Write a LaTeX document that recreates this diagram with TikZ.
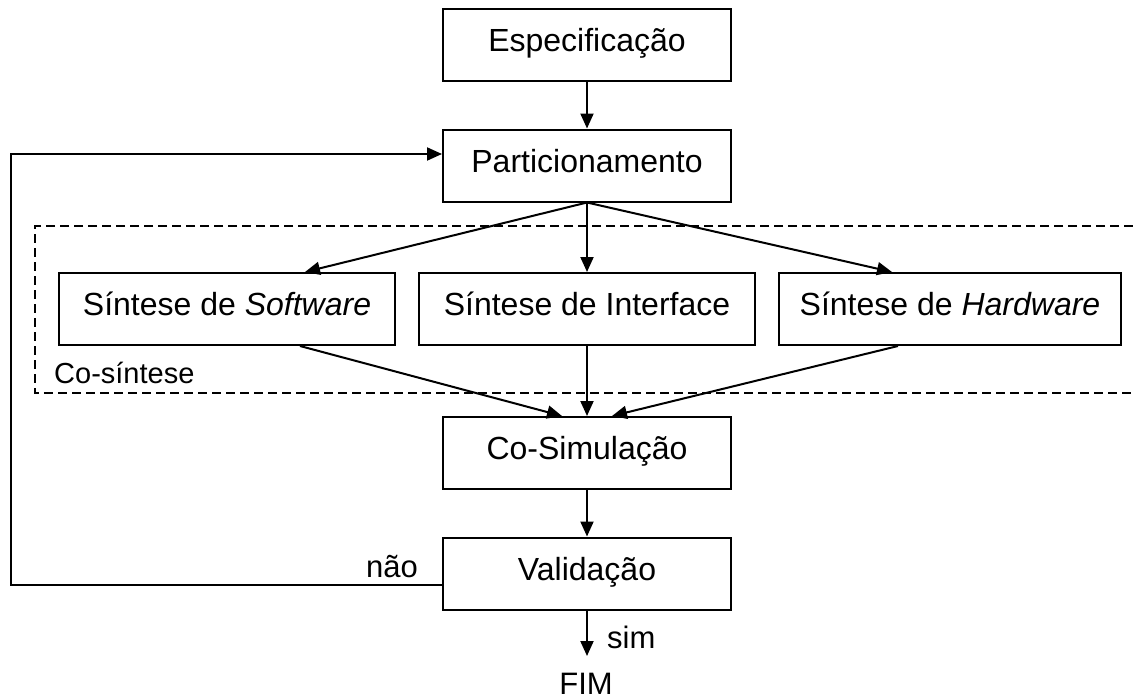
\documentclass[tikz,border=0pt]{standalone}
\usepackage{fontspec}
\setmainfont{Liberation Sans}
\usetikzlibrary{arrows.meta}
\begin{document}
\begin{tikzpicture}[x=1pt,y=-1pt,
  box/.style={draw, line width=2pt, minimum height=72pt, inner sep=0pt,
    font=\fontsize{32}{38}\selectfont, text height=23pt, text depth=10pt},
  mainbox/.style={box, minimum width=288pt},
  conn/.style={line width=2pt, -{Triangle[length=15pt,width=13pt]}},
  lbl/.style={font=\fontsize{31}{36}\selectfont, inner sep=0pt},
  region/.style={line width=2pt, dash pattern=on 9pt off 5pt}]
\useasboundingbox (0,0) rectangle (1133,699);

% dashed co-synthesis region (open at the right edge)
\draw[region] (1133,226) -- (35,226) -- (35,393) -- (1133,393);
\node[lbl, font=\fontsize{29}{34}\selectfont, anchor=base west] (cosin) at (54,383) {Co-síntese};

\node[mainbox] (spec) at (587,45) {Especificação};
\node[mainbox] (part) at (587,165.5) {Particionamento};
\node[box, minimum width=336pt] (sw) at (227,309) {Síntese de \textit{Software}};
\node[box, minimum width=336pt] (if) at (587,309) {Síntese de Interface};
\node[box, minimum width=342pt] (hw) at (950,309) {Síntese de \textit{Hardware}};
\node[mainbox] (cosim) at (587,453) {Co-Simulação};
\node[mainbox] (val) at (587,573.5) {Validação};

\node[lbl, anchor=base] (fim) at (586,694) {FIM};
\node[lbl, anchor=base west] (sim) at (607,648) {sim};
\node[lbl, anchor=base east] (nao) at (418,577) {não};

\coordinate (fimtip) at (587,656);
\coordinate (fbL) at (11,585);

\draw[conn] (spec.south) -- (part.north);
\draw[conn] (part.south) -- ([xshift=78pt]sw.north);
\draw[conn] (part.south) -- (if.north);
\draw[conn] (part.south) -- ([xshift=-58pt]hw.north);
\draw[conn] ([xshift=73pt]sw.south) -- ([xshift=-25pt]cosim.north);
\draw[conn] (if.south) -- (cosim.north);
\draw[conn] ([xshift=-52pt]hw.south) -- ([xshift=25pt]cosim.north);
\draw[conn] (cosim.south) -- (val.north);
\draw[conn] (val.south) -- (fimtip);
\draw[conn] ([yshift=-11.5pt]val.west) -- (fbL) |- ([yshift=11.5pt]part.west);
\end{tikzpicture}
\end{document}
